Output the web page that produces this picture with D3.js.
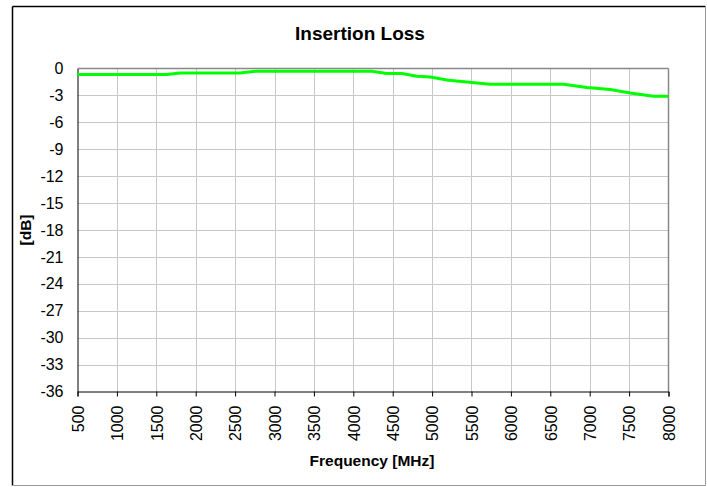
<!DOCTYPE html>
<html>
<head>
<meta charset="utf-8">
<title>Insertion Loss</title>
<script src="https://cdn.jsdelivr.net/npm/d3@7"></script>
<style>
body{ margin:0; background:#fff; }
svg{ display:block; font-family:"Liberation Sans", Arial, sans-serif; }
</style>
</head>
<body>
<svg id="chart" width="707" height="487"></svg>
<script>
// frequency [MHz] and insertion loss [dB]
var freq = [500, 1634, 1803, 2565, 2755, 4236, 4426, 4617, 4807, 4976, 5208, 5737, 6667, 6964, 7260, 7514, 7809, 8000];
var loss = [-0.67, -0.67, -0.49, -0.49, -0.30, -0.30, -0.56, -0.56, -0.86, -0.94, -1.31, -1.75, -1.75, -2.12, -2.34, -2.72, -3.09, -3.09];

var xTicks = [500, 1000, 1500, 2000, 2500, 3000, 3500, 4000, 4500, 5000, 5500, 6000, 6500, 7000, 7500, 8000];
var yTicks = [0, -3, -6, -9, -12, -15, -18, -21, -24, -27, -30, -33, -36];

// plot area (note: "top" is a reserved window prop, so use pl/pr/pt/pb)
var pl = 77.5, pr = 668.5, pt = 68.5, pb = 391.5;

var svg = d3.select("#chart");

var x = d3.scaleLinear().domain([500, 8000]).range([pl, pr]);
var y = d3.scaleLinear().domain([-36, 0]).range([pb, pt]);

// outer frame
svg.append("line").attr("x1", 12.5).attr("y1", 6.5).attr("x2", 705.5).attr("y2", 6.5).attr("stroke", "#000").attr("stroke-width", 1.5);
svg.append("line").attr("x1", 12.5).attr("y1", 6.5).attr("x2", 12.5).attr("y2", 485.5).attr("stroke", "#000").attr("stroke-width", 1.5);
svg.append("line").attr("x1", 12.5).attr("y1", 485.5).attr("x2", 705.5).attr("y2", 485.5).attr("stroke", "#999");
svg.append("line").attr("x1", 705.5).attr("y1", 6.5).attr("x2", 705.5).attr("y2", 485.5).attr("stroke", "#999");

// grid
svg.append("g").selectAll("line").data(xTicks.slice(1, -1)).enter().append("line")
    .attr("x1", function(d){ return Math.round(x(d)) + 0.5; })
    .attr("x2", function(d){ return Math.round(x(d)) + 0.5; })
    .attr("y1", pt).attr("y2", pb)
    .attr("stroke", "#c8c8c8");
svg.append("g").selectAll("line").data(yTicks.slice(1, -1)).enter().append("line")
    .attr("y1", function(d){ return Math.round(y(d)) + 0.5; })
    .attr("y2", function(d){ return Math.round(y(d)) + 0.5; })
    .attr("x1", pl).attr("x2", pr)
    .attr("stroke", "#c8c8c8");

// plot border top / right
svg.append("line").attr("x1", pl).attr("x2", pr).attr("y1", pt).attr("y2", pt).attr("stroke", "#888").attr("stroke-width", 1.5);
svg.append("line").attr("x1", pr).attr("x2", pr).attr("y1", pt).attr("y2", pb).attr("stroke", "#888").attr("stroke-width", 1.5);

// x axis
var xAxis = svg.append("g").attr("transform", "translate(0," + pb + ")")
    .call(d3.axisBottom(x).tickValues(xTicks).tickSize(5).tickFormat(String));
xAxis.select(".domain").attr("stroke", "#000");
xAxis.selectAll(".tick line").attr("stroke", "#000");
xAxis.selectAll("text")
    .attr("font-size", "16px")
    .attr("fill", "#000")
    .attr("transform", "rotate(-90)")
    .attr("text-anchor", "end")
    .attr("x", -14)
    .attr("y", 0)
    .attr("dy", "0.36em");

// y axis (plain hyphen minus like the original)
var yAxis = svg.append("g").attr("transform", "translate(" + pl + ",0)")
    .call(d3.axisLeft(y).tickValues(yTicks).tickSize(0).tickPadding(14).tickFormat(String));
yAxis.select(".domain").attr("stroke", "#000");
yAxis.selectAll("text").attr("font-size", "16px").attr("fill", "#000");

// line
var line = d3.line()
    .x(function(d, i){ return x(freq[i]); })
    .y(function(d){ return y(d); });
svg.append("path").datum(loss)
    .attr("d", line)
    .attr("fill", "none")
    .attr("stroke", "#00ff00")
    .attr("stroke-width", 3)
    .attr("stroke-linejoin", "round");

// titles
svg.append("text").attr("x", 360).attr("y", 40)
    .attr("text-anchor", "middle").attr("font-size", "19px").attr("font-weight", "bold")
    .text("Insertion Loss");
svg.append("text").attr("x", 372).attr("y", 466)
    .attr("text-anchor", "middle").attr("font-size", "15.5px").attr("font-weight", "bold")
    .text("Frequency [MHz]");
svg.append("text").attr("transform", "translate(31,230) rotate(-90)")
    .attr("text-anchor", "middle").attr("font-size", "15.5px").attr("font-weight", "bold")
    .text("[dB]");
</script>
</body>
</html>
